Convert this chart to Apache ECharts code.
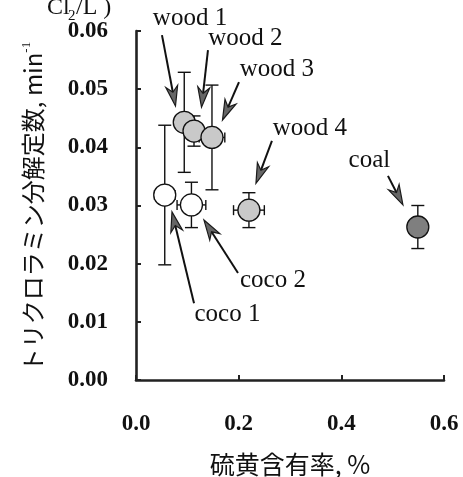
<!DOCTYPE html>
<html>
<head>
<meta charset="utf-8">
<script src="https://cdn.jsdelivr.net/npm/echarts@6/dist/echarts.min.js"></script>
<style>
  html, body { margin: 0; padding: 0; background: #fff; }
  #chart { width: 463px; height: 477px; }
</style>
</head>
<body>
<div id="chart"></div>
<script>
// Sample names, sulfur content (%) and trichloramine decomposition rate (min^-1)
const samples   = ['wood 1', 'wood 2', 'wood 3', 'wood 4', 'coco 1', 'coco 2', 'coal'];
const sulfur    = [0.094, 0.113, 0.148, 0.220, 0.056, 0.108, 0.549];
const sulfurErr = [0, 0, 0.025, 0.030, 0.020, 0.028, 0];
const rate      = [0.0443, 0.0428, 0.0417, 0.0292, 0.0318, 0.0301, 0.0263];
const rateErr   = [0.0086, 0.0026, 0.0090, 0.0030, 0.0120, 0.0039, 0.0037];

// Axis ticks
const xTicks = [0.0, 0.2, 0.4, 0.6];
const yTicks = [0.00, 0.01, 0.02, 0.03, 0.04, 0.05, 0.06];

// Callout labels: text centre, arrow tail and arrow tip (data units)
const calloutText  = ['wood 1', 'wood 2', 'wood 3', 'wood 4', 'coal', 'coco 2', 'coco 1'];
const calloutLabel = [[0.1052, 0.0622], [0.2132, 0.0588], [0.2746, 0.0534], [0.3389, 0.0433],
                      [0.4547, 0.0378], [0.2668, 0.0172], [0.1782, 0.0113]];
const calloutTail  = [[0.0506, 0.0593], [0.1402, 0.0567], [0.2006, 0.0512], [0.2648, 0.0411],
                      [0.4908, 0.0351], [0.1987, 0.0184], [0.1130, 0.0132]];
const calloutTip   = [[0.0769, 0.0471], [0.1276, 0.0469], [0.1685, 0.0447], [0.2337, 0.0338],
                      [0.5200, 0.0301], [0.1324, 0.0275], [0.0701, 0.0289]];

const SERIF = '"Liberation Serif", "DejaVu Serif", serif';
const CJK = '"Noto Sans CJK JP", "Noto Sans", sans-serif';

function fillFor(name) {
  if (name.indexOf('wood') === 0) return '#c9c9c9';
  if (name.indexOf('coal') === 0) return '#7f7f7f';
  return '#ffffff';
}

const pointData = samples.map((n, i) => ({
  name: n,
  value: [sulfur[i], rate[i]],
  itemStyle: { color: fillFor(n) }
}));
const errData = samples.map((n, i) => [sulfur[i], rate[i], sulfurErr[i], rateErr[i]]);
const calloutData = calloutText.map((t, i) => [i]);

function renderErr(params, api) {
  const x = api.value(0), y = api.value(1), ex = api.value(2), ey = api.value(3);
  const children = [];
  const st = { stroke: '#111', lineWidth: 1.4, fill: 'none' };
  const cap = 6.5;
  if (ey > 0) {
    const top = api.coord([x, y + ey]);
    const bot = api.coord([x, y - ey]);
    children.push({ type: 'line', shape: { x1: top[0], y1: top[1], x2: bot[0], y2: bot[1] }, style: st });
    children.push({ type: 'line', shape: { x1: top[0] - cap, y1: top[1], x2: top[0] + cap, y2: top[1] }, style: st });
    children.push({ type: 'line', shape: { x1: bot[0] - cap, y1: bot[1], x2: bot[0] + cap, y2: bot[1] }, style: st });
  }
  if (ex > 0) {
    const l = api.coord([x - ex, y]);
    const r = api.coord([x + ex, y]);
    children.push({ type: 'line', shape: { x1: l[0], y1: l[1], x2: r[0], y2: r[1] }, style: st });
    children.push({ type: 'line', shape: { x1: l[0], y1: l[1] - 5, x2: l[0], y2: l[1] + 5 }, style: st });
    children.push({ type: 'line', shape: { x1: r[0], y1: r[1] - 5, x2: r[0], y2: r[1] + 5 }, style: st });
  }
  return { type: 'group', children };
}

function renderCallout(params, api) {
  const i = api.value(0);
  const lab = api.coord(calloutLabel[i]);
  const s = api.coord(calloutTail[i]);
  const t = api.coord(calloutTip[i]);
  const dx = t[0] - s[0], dy = t[1] - s[1];
  const len = Math.sqrt(dx * dx + dy * dy);
  const ux = dx / len, uy = dy / len;
  const px = -uy, py = ux;
  const L = 20, W = 6, N = 6;
  const bx = t[0] - L * ux, by = t[1] - L * uy;
  const nx = t[0] - (L - N) * ux, ny = t[1] - (L - N) * uy;
  return {
    type: 'group',
    children: [
      { type: 'line', shape: { x1: s[0], y1: s[1], x2: nx, y2: ny },
        style: { stroke: '#111', lineWidth: 2 } },
      { type: 'polygon',
        shape: { points: [[t[0], t[1]], [bx + W * px, by + W * py], [nx, ny], [bx - W * px, by - W * py]] },
        style: { fill: '#666', stroke: '#1a1a1a', lineWidth: 1.2 } },
      { type: 'text',
        style: { text: calloutText[i], x: lab[0], y: lab[1], align: 'center', verticalAlign: 'middle',
                 font: '25px ' + SERIF, fill: '#111' } }
    ]
  };
}

const chart = echarts.init(document.getElementById('chart'), null, { renderer: 'canvas' });
chart.setOption({
  backgroundColor: '#fff',
  animation: false,
  grid: { left: 136, right: 19, top: 31, bottom: 97, containLabel: false, outerBoundsMode: 'none' },
  xAxis: {
    type: 'value',
    min: xTicks[0], max: xTicks[xTicks.length - 1], interval: 0.2,
    splitLine: { show: false },
    axisLine: { show: true, lineStyle: { color: '#222', width: 2.6 } },
    axisTick: { show: true, inside: true, length: 5, lineStyle: { color: '#222', width: 2 } },
    axisLabel: { margin: 33, color: '#111', fontFamily: SERIF, fontWeight: 'bold', fontSize: 23,
                 formatter: v => v.toFixed(1) },
    name: '硫黄含有率, %',
    nameLocation: 'middle', nameGap: 72,
    nameTextStyle: { fontFamily: CJK, fontSize: 25, color: '#111' }
  },
  yAxis: {
    type: 'value',
    min: yTicks[0], max: yTicks[yTicks.length - 1], interval: 0.01,
    splitLine: { show: false },
    axisLine: { show: true, lineStyle: { color: '#222', width: 2.6 } },
    axisTick: { show: true, inside: true, length: 5, lineStyle: { color: '#222', width: 2 } },
    axisLabel: { margin: 28, color: '#111', fontFamily: SERIF, fontWeight: 'bold', fontSize: 23,
                 formatter: v => v.toFixed(2) }
  },
  graphic: [
    {
      type: 'text', x: 33, y: 207, rotation: Math.PI / 2,
      style: {
        text: '{t|トリクロラミン分解定数, min}{s|-1}',
        align: 'center', verticalAlign: 'middle', fill: '#111',
        rich: {
          t: { fontFamily: CJK, fontSize: 24, fill: '#111' },
          s: { fontFamily: SERIF, fontSize: 13, fill: '#111', padding: [0, 0, 12, 0] }
        }
      }
    },
    // concentration unit fragment above the y axis
    { type: 'text', x: 47, y: 20,
      style: { text: 'Cl', font: '24px ' + SERIF, fill: '#111', verticalAlign: 'bottom' } },
    { type: 'text', x: 68, y: 24,
      style: { text: '2', font: '15px ' + SERIF, fill: '#111', verticalAlign: 'bottom' } },
    { type: 'text', x: 76, y: 20,
      style: { text: '/L )', font: '24px ' + SERIF, fill: '#111', verticalAlign: 'bottom' } }
  ],
  series: [
    {
      type: 'custom', name: 'error', renderItem: renderErr, data: errData, z: 2, clip: false,
      encode: { x: 0, y: 1 }
    },
    {
      type: 'scatter', name: 'samples', data: pointData, symbol: 'circle', symbolSize: 22, z: 3,
      itemStyle: { borderColor: '#111', borderWidth: 1.3, opacity: 1 }
    },
    {
      type: 'custom', name: 'callouts', renderItem: renderCallout, data: calloutData, z: 4, clip: false,
      silent: true
    }
  ]
});
</script>
</body>
</html>
